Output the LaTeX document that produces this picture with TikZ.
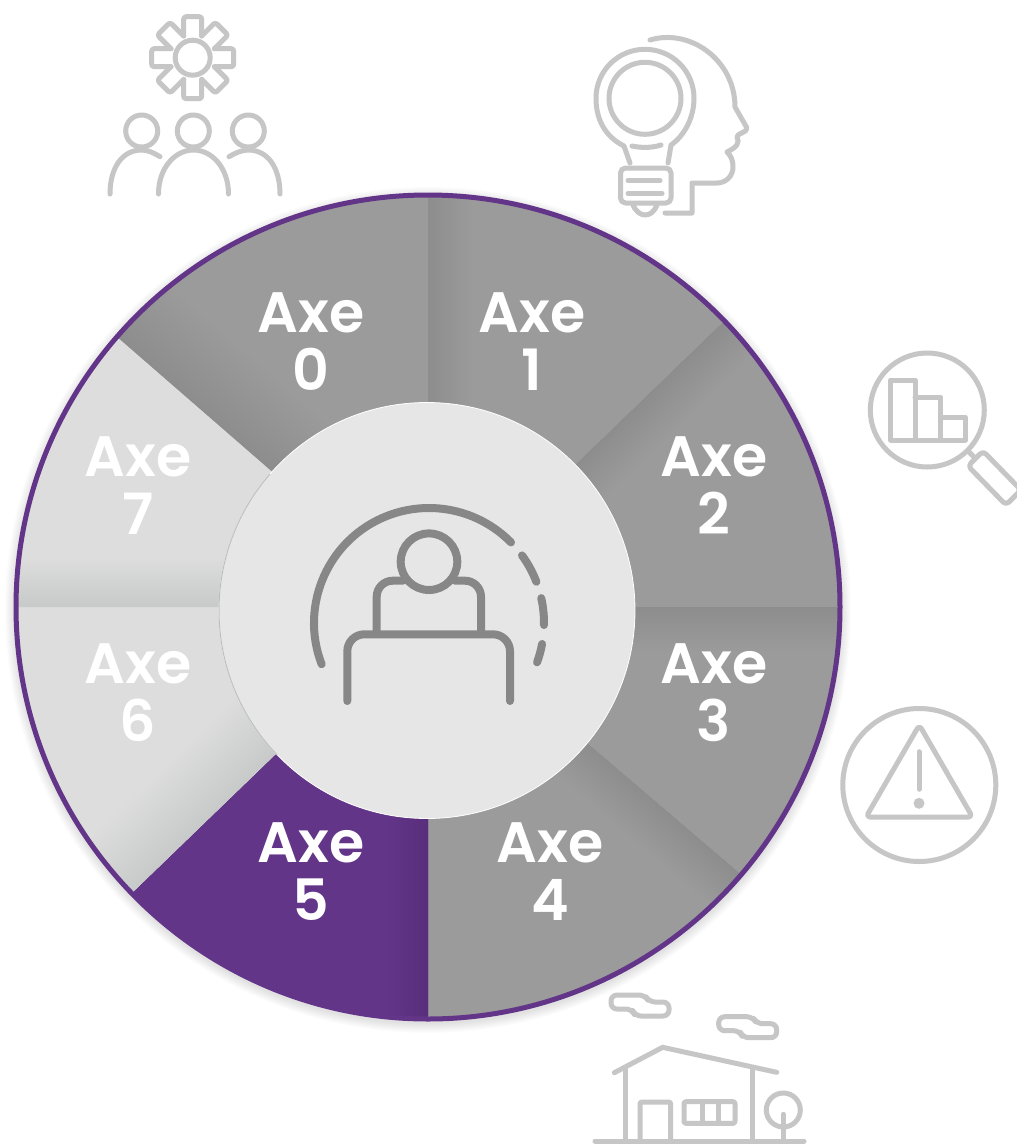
\documentclass[tikz,border=0pt]{standalone}
\usepackage{fontspec}
\setmainfont{Poppins}[BoldFont={Poppins SemiBold}]
\usepackage{tikz}
\definecolor{axegray}{HTML}{9B9B9B}
\definecolor{axeshade}{HTML}{858685}
\definecolor{axelight}{HTML}{DDDDDD}
\definecolor{lightshade}{HTML}{BDBFBF}
\definecolor{axepurple}{HTML}{633589}
\definecolor{purpleshade}{HTML}{532B75}
\definecolor{hubgray}{HTML}{E6E6E6}
\definecolor{icongray}{HTML}{C6C6C6}
\definecolor{deskgray}{HTML}{878787}

\begin{document}
\begin{tikzpicture}[x=1pt,y=-1pt,
	axelabel/.style={text=white, align=center, inner sep=0pt, font=\fontsize{57}{58}\selectfont\bfseries},
	icon/.style={draw=icongray, line width=5pt, line cap=round, line join=round},
	desk/.style={draw=deskgray, line width=8pt, line cap=round, line join=round}]
	
	\clip (0,0) rectangle (1017,1144);
	\fill[white] (0,0) rectangle (1017,1144);
	
	% WHEEL
	
	\foreach \r in {1,...,10}
	{
		\fill[black, opacity=0.012] (428,610) circle (413+\r);
	}
	
	\begin{scope}[transform canvas={shift={(428pt,-607pt)}}, x=1pt, y=1pt]
		\foreach \from/\to/\base/\tint/\band in {90/44/axegray/axeshade/45, 44/0/axegray/axeshade/45, 0/-40.5/axegray/axeshade/45, -40.5/-90/axegray/axeshade/45, -90/-136/axepurple/purpleshade/45, -136/-180/axelight/lightshade/70, 180/139/axelight/lightshade/50, 139/90/axegray/axeshade/75}
		{
			\begin{scope}
				\clip (0,0) -- (\from:412) arc[start angle=\from, end angle=\to, radius=412] -- cycle;
				\fill[\base] (-420,-420) rectangle (420,420);
				\begin{scope}[transform canvas={rotate=\from}]
					\shade[bottom color=\base, top color=\tint] (0,-\band) rectangle (420,\band*0.5);
				\end{scope}
			\end{scope}
		}
		\draw[axepurple, line width=5pt] (0,0) circle (412);
	\end{scope}
	
	% HUB
	
	\node[circle, fill=hubgray, draw=white, line width=0.8pt, minimum size=416pt, inner sep=0pt] (hub) at (427,610.5) {};
	\begin{scope}[shift={(427,610.5)}, x=1pt, y=1pt]
		\draw[lightshade, line width=1pt] (139:208) arc[start angle=139, end angle=224, radius=208];
	\end{scope}
	
	% LABELS
	
	\node[axelabel] (axezero) at (311,342) {Axe\\0};
	\node[axelabel] (axeone) at (532,342) {Axe\\1};
	\node[axelabel] (axetwo) at (714,486) {Axe\\2};
	\node[axelabel] (axethree) at (714,693) {Axe\\3};
	\node[axelabel] (axefour) at (550,872) {Axe\\4};
	\node[axelabel] (axefive) at (311,872) {Axe\\5};
	\node[axelabel] (axesix) at (138,693) {Axe\\6};
	\node[axelabel] (axeseven) at (138,486) {Axe\\7};
	
	% PERSON AT DESK
	
	\draw[desk] (429,623) ++(159:115) arc[start angle=159, end angle=315.5, radius=115];
	\foreach \from/\to in {324/339, 347.5/361, 10.5/20}
	{
		\draw[desk] (429,623) ++(\from:115) arc[start angle=\from, end angle=\to, radius=115];
	}
	\draw[desk] (429,561.7) circle (28.3);
	\draw[desk, rounded corners=16pt] (376.7,632) -- (376.7,580.7) -- (403,580.7);
	\draw[desk, rounded corners=16pt] (481,632) -- (481,580.7) -- (455,580.7);
	\draw[desk, rounded corners=17pt] (347.3,701) -- (347.3,634.3) -- (510,634.3) -- (510,701);
	
	% GEAR AND PEOPLE
	
	\draw[icon] (192.7,57.7) circle (17.5);
	\foreach \a in {0,45,...,315}
	{
		\begin{scope}[shift={(192.7,57.7)}, rotate=\a]
			\draw[icon, rounded corners=2.5pt] (-9,-21.7) -- (-9,-41) -- (9,-41) -- (9,-21.7);
		\end{scope}
	}
	\foreach \x in {141.7,193.3,248.3}
	{
		\draw[icon] (\x,131) circle (16);
	}
	\draw[icon] (110,194) .. controls (110,168) and (122,150) .. (141.7,150) .. controls (148,150) and (154,153) .. (160,156.7);
	\draw[icon] (158.5,194) .. controls (158.5,168) and (175,150) .. (193.5,150) .. controls (212,150) and (228.5,168) .. (228.5,194);
	\draw[icon] (280,194) .. controls (280,168) and (268,150) .. (248.3,150) .. controls (242,150) and (235,153) .. (229,156.7);
	
	% BULB AND HEAD
	
	\draw[icon] (645,98.3) circle (36);
	\draw[icon] (630,163) -- (624,146) .. controls (604,136) and (596,118) .. (596,98.3) .. controls (596,71) and (618,49.3) .. (645,49.3) .. controls (672,49.3) and (694,71) .. (694,98.3) .. controls (694,118) and (684,136) .. (671,145) -- (668,163);
	\draw[icon] (632,146) .. controls (641,148) and (652,148) .. (661,145);
	\draw[icon, rounded corners=5pt] (630,168) -- (620.5,168) -- (620.5,203) -- (671,203) -- (671,168) -- cycle;
	\draw[icon] (628,180.5) -- (660,180.5);
	\draw[icon] (628,193.5) -- (662,193.5);
	\draw[icon] (633,205) .. controls (636,212) and (641,215) .. (645,215) .. controls (650,215) and (654,212) .. (657,205);
	\draw[icon] (650,40) .. controls (690,28) and (735,60) .. (735,107) -- (747,128) .. controls (747,133) and (737,133) .. (737,137) .. controls (740,143) and (737,147) .. (727,152) .. controls (731,156) and (733,160) .. (733,167) .. controls (733,176) and (726,183) .. (717,183) -- (692,183) -- (692,213) -- (665,213);
	
	% MAGNIFIER
	
	\draw[icon] (927.3,410) circle (57);
	\draw[icon] (915,440) -- (915,380) -- (890.7,380) -- (890.7,440) -- (965,440) -- (965,417) -- (940.7,417);
	\draw[icon] (915,397) -- (940.7,397) -- (940.7,440);
	\draw[icon] (968,451) -- (975,458);
	\draw[icon, rounded corners=4pt] (983,451) -- (968,466) -- (1006,505) -- (1021,490) -- cycle;
	
	% WARNING
	
	\draw[icon] (919.3,785) circle (76.5);
	\draw[icon, rounded corners=4pt] (919.3,725) -- (866,817) -- (972.5,817) -- cycle;
	\draw[icon] (919,751.7) -- (919,789.3);
	\fill[icongray] (919,803.3) circle (5.5);
	
	% HOUSE AND CLOUDS
	
	\foreach \dx/\dy in {0/0, 107.7/21.7}
	{
		\begin{scope}[shift={(\dx,\dy)}]
			\draw[icon, rounded corners=6pt] (611,995) -- (645,995) -- (649,1002) -- (669,1002) -- (669,1016) -- (635,1016) -- (632,1009) -- (611,1009) -- cycle;
		\end{scope}
	}
	\draw[icon] (595,1141) -- (804,1141);
	\draw[icon] (614.3,1072.7) -- (662.7,1047.3) -- (776.7,1072.3);
	\draw[icon] (625,1068) -- (625,1141);
	\draw[icon] (752.3,1068) -- (752.3,1141);
	\draw[icon, rounded corners=2pt] (640,1141) -- (640,1102) -- (670.7,1102) -- (670.7,1141);
	\draw[icon, rounded corners=2pt] (684,1101.7) rectangle (735,1123.3);
	\draw[icon] (702.7,1101.7) -- (702.7,1123.3);
	\draw[icon] (718.3,1101.7) -- (718.3,1123.3);
	\draw[icon] (783.3,1110) circle (17);
	\draw[icon] (783.3,1114.3) -- (783.3,1141);
	
\end{tikzpicture}
\end{document}
